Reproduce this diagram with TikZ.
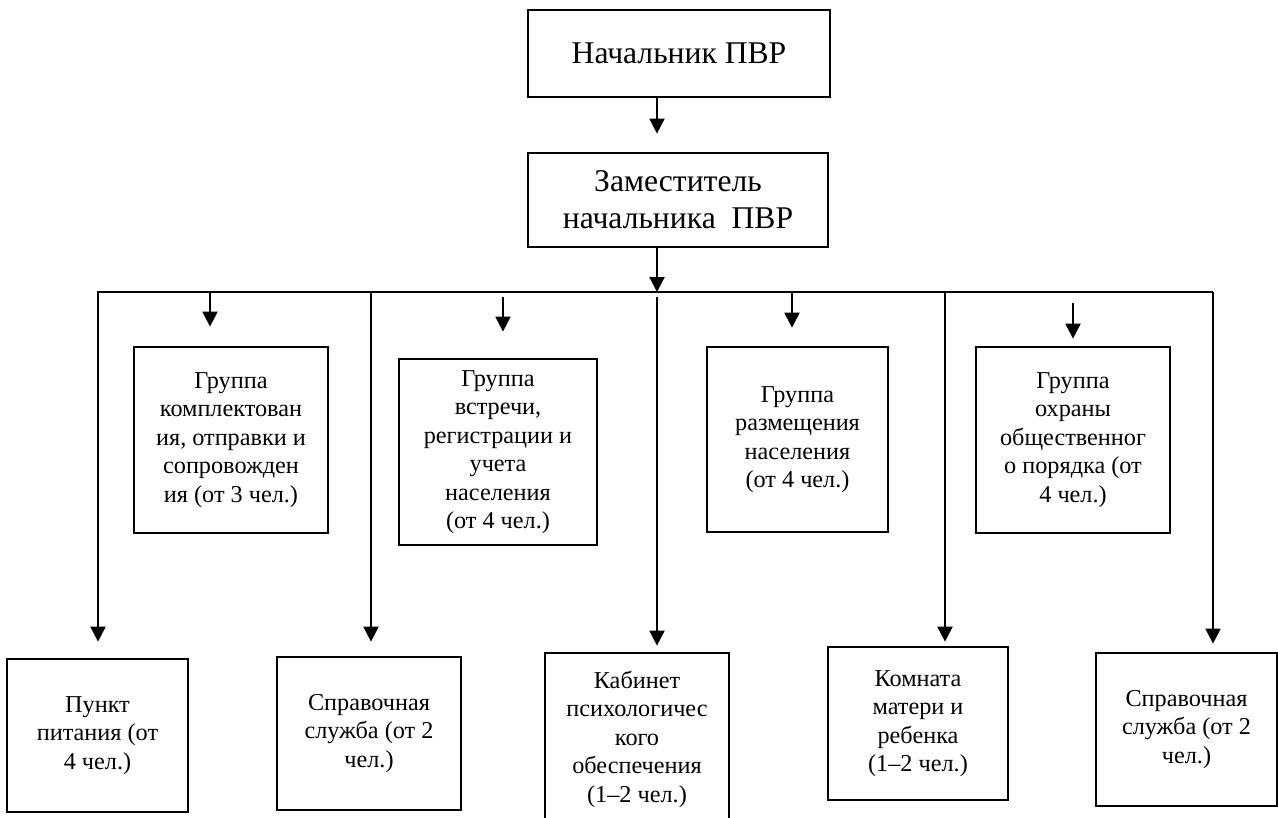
\documentclass[tikz,border=0pt]{standalone}
\usepackage{fontspec}
\setmainfont{Liberation Serif}
\usetikzlibrary{arrows.meta}
\tikzstyle{box}=[draw, line width=1.6pt, align=center, inner sep=0pt, font=\fontsize{13.8}{16.2}\selectfont]
\tikzstyle{head}=[box, font=\fontsize{18}{21}\selectfont]
\tikzstyle{arr}=[line width=1.2pt, -{Triangle[width=8.5pt,length=8.5pt]}]
\tikzstyle{bus}=[line width=0.8pt]

\begin{document}
\begin{tikzpicture}[x=0.02cm, y=-0.02cm]
      \useasboundingbox (0,0) rectangle (1278,818);

      \node[head, minimum width=6.04cm, minimum height=1.74cm] (chief) at (679,53.5) {Начальник ПВР};
      \node[head, minimum width=6cm, minimum height=1.88cm] (deputy) at (678,200)
          {Заместитель\\начальника\ \ ПВР};

      % groups
      \node[box, minimum width=3.88cm, minimum height=3.72cm] (g1) at (231,440)
          {Группа\\комплектован\\ия, отправки и\\сопровожден\\ия (от 3 чел.)};
      \node[box, minimum width=3.96cm, minimum height=3.72cm] (g2) at (498,452)
          {Группа\\встречи,\\регистрации и\\учета\\населения\\(от 4 чел.)};
      \node[box, minimum width=3.62cm, minimum height=3.7cm] (g3) at (797.5,439.5)
          {Группа\\размещения\\населения\\(от 4 чел.)};
      \node[box, minimum width=3.88cm, minimum height=3.72cm] (g4) at (1073,440)
          {Группа\\охраны\\общественног\\о порядка (от\\4 чел.)};

      % services
      \node[box, minimum width=3.62cm, minimum height=3.06cm] (b1) at (97.5,735.5)
          {Пункт\\питания (от\\4 чел.)};
      \node[box, minimum width=3.68cm, minimum height=3.06cm] (b2) at (369,733.5)
          {Справочная\\служба (от 2\\чел.)};
      \node[box, minimum width=3.68cm, minimum height=3.44cm] (b3) at (637,739)
          {Кабинет\\психологичес\\кого\\обеспечения\\(1--2 чел.)};
      \node[box, minimum width=3.6cm, minimum height=3.06cm] (b4) at (918,723.5)
          {Комната\\матери и\\ребенка\\(1--2 чел.)};
      \node[box, minimum width=3.62cm, minimum height=3.06cm] (b5) at (1186.5,729.5)
          {Справочная\\служба (от 2\\чел.)};

      \coordinate (hub) at (657,292);
      \coordinate (busL) at (97,292);
      \coordinate (busR) at (1213,292);

      \draw[arr, shorten >=0.36cm] (hub |- chief.south) -- (hub |- deputy.north);
      \draw[arr] (hub |- deputy.south) -- (hub);
      \draw[bus] (busL) -- (busR);

      \coordinate (k1) at (210,292);
      \coordinate (k2) at (503,297);
      \coordinate (k3) at (792,292);
      \coordinate (k4) at (1073,303);
      \coordinate (d1) at (98,292);
      \coordinate (d2) at (371,292);
      \coordinate (d3) at (657,297);
      \coordinate (d4) at (945,292);
      \coordinate (d5) at (1213,292);

      \foreach \c/\n/\s in {k1/g1/0.38cm, k2/g2/0.52cm, k3/g3/0.36cm, k4/g4/0.14cm,
                            d1/b1/0.32cm, d2/b2/0.28cm, d3/b3/0.12cm, d4/b4/0.08cm, d5/b5/0.16cm}
        \draw[arr, shorten >=\s] (\c) -- (\c |- \n.north);
\end{tikzpicture}
\end{document}
